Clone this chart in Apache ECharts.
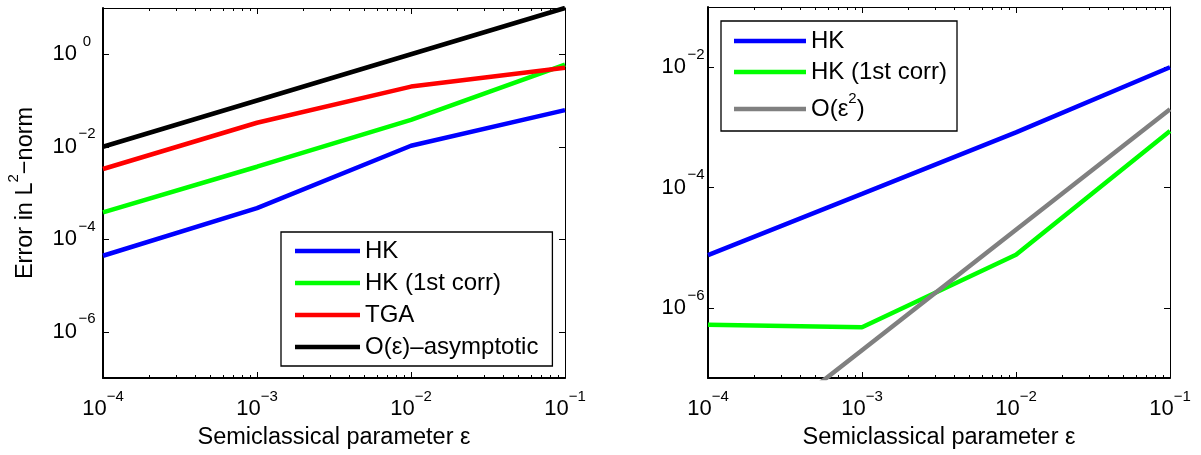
<!DOCTYPE html>
<html><head><meta charset="utf-8">
<script src="https://cdn.jsdelivr.net/npm/echarts@6/dist/echarts.min.js"></script>
<style>html,body{margin:0;padding:0;background:#fff}#c{width:1201px;height:455px}</style>
</head><body><div id="c"></div>
<script>
// ---- data (raw values, plotted on log10 scales) ----
const epsValues = [1e-4, 1e-3, 1e-2, 1e-1];
const xMajorTickValues = [1e-4, 1e-3, 1e-2, 1e-1];
const xMinorTickValues = [2e-4,3e-4,4e-4,5e-4,6e-4,7e-4,8e-4,9e-4,
                          2e-3,3e-3,4e-3,5e-3,6e-3,7e-3,8e-3,9e-3,
                          2e-2,3e-2,4e-2,5e-2,6e-2,7e-2,8e-2,9e-2];
const leftYTickValues = [1e-6, 1e-4, 1e-2, 1e0];
const rightYTickValues = [1e-6, 1e-4, 1e-2];
const leftYRange = [1e-7, 1e1];
const rightYRange = [6.9e-8, 1e-1];

const leftNames = ['HK', 'HK (1st corr)', 'TGA', 'O(ε)–asymptotic'];
const leftHK    = [4.4e-5, 4.7e-4, 1.05e-2, 6.2e-2];
const leftHK1   = [3.8e-4, 3.7e-3, 3.8e-2, 0.6];
const leftTGA   = [3.3e-3, 3.3e-2, 0.2, 0.51];
const leftAsym  = [1e-2, 1e-1, 1, 10];

const rightNames = ['HK', 'HK (1st corr)', 'O(ε2)'];
const rightHK   = [7.6e-6, 7.9e-5, 8.3e-4, 1e-2];
const rightHK1  = [5.3e-7, 4.8e-7, 7.7e-6, 8.7e-4];
const rightO2   = [2e-9, 2e-7, 2e-5, 2e-3];

const leftColors = ['#0000ff', '#00ff00', '#ff0000', '#000000'];
const rightColors = ['#0000ff', '#00ff00', '#808080'];

// ---- helpers ----
const FF = 'Liberation Sans, Arial, Helvetica, sans-serif';
const lg = v => Math.log10(v);
function expLabel(v) {
  const n = Math.round(v);
  const s = n < 0 ? '\u2212' + (-n) : String(n);
  return '{b|10}{s|' + s + '}';
}
const richX = {
  b: {fontSize: 22, fontFamily: FF, color: '#000', lineHeight: 40},
  s: {fontSize: 15, fontFamily: FF, color: '#000', lineHeight: 16, verticalAlign: 'top'}
};
const richY = {
  b: {fontSize: 22, fontFamily: FF, color: '#000', lineHeight: 40},
  s: {fontSize: 15, fontFamily: FF, color: '#000', lineHeight: 16, verticalAlign: 'top', width: 20, align: 'left'}
};
const richName = {
  b: {fontSize: 23.5, fontFamily: FF, color: '#000', lineHeight: 40},
  s: {fontSize: 15, fontFamily: FF, color: '#000', lineHeight: 16, verticalAlign: 'top'}
};

function xAxes(gridIndex, withLabels) {
  const base = {
    type: 'value', gridIndex, min: lg(epsValues[0]), max: lg(epsValues[epsValues.length - 1]), interval: 1,
    splitLine: {show: false}
  };
  return [
    Object.assign({}, base, {
      position: 'bottom',
      axisLine: {show: true, onZero: false, lineStyle: {color: '#000', width: 2}},
      axisTick: {show: true, inside: true, length: 6, lineStyle: {color: '#000', width: 1}, customValues: xMajorTickValues.map(lg)},
      axisLabel: {show: withLabels, margin: 11, formatter: expLabel, rich: richX},
      name: 'Semiclassical parameter ε', nameLocation: 'middle', nameGap: 48,
      nameTextStyle: {fontSize: 23.5, fontFamily: FF, color: '#000'}
    }),
    Object.assign({}, base, {
      position: 'bottom',
      axisLine: {show: false, onZero: false},
      axisTick: {show: true, inside: true, length: 3, lineStyle: {color: '#000', width: 1}, customValues: xMinorTickValues.map(lg)},
      axisLabel: {show: false}
    }),
    Object.assign({}, base, {
      position: 'top',
      axisLine: {show: true, onZero: false, lineStyle: {color: '#000', width: 1}},
      axisTick: {show: true, inside: true, length: 6, lineStyle: {color: '#000', width: 1}, customValues: xMajorTickValues.map(lg)},
      axisLabel: {show: false}
    }),
    Object.assign({}, base, {
      position: 'top',
      axisLine: {show: false, onZero: false},
      axisTick: {show: true, inside: true, length: 3, lineStyle: {color: '#000', width: 1}, customValues: xMinorTickValues.map(lg)},
      axisLabel: {show: false}
    })
  ];
}
function yAxes(gridIndex, range, ticks, margin, withName) {
  const base = {type: 'value', gridIndex, min: lg(range[0]), max: lg(range[1]), splitLine: {show: false}};
  const left = Object.assign({}, base, {
    position: 'left',
    axisLine: {show: true, onZero: false, lineStyle: {color: '#000', width: 2}},
    axisTick: {show: true, inside: true, length: 6, lineStyle: {color: '#000', width: 1}, customValues: ticks.map(lg)},
    axisLabel: {show: true, margin, formatter: expLabel, rich: richY, customValues: ticks.map(lg)}
  });
  if (withName) {
    Object.assign(left, {
      name: '{b|Error in L}{s|2}{b|\u2212norm}', nameLocation: 'middle', nameGap: 57, nameRotate: 90,
      nameTextStyle: {rich: richName, fontSize: 23.5, fontFamily: FF, color: '#000'}
    });
  }
  const right = Object.assign({}, base, {
    position: 'right',
    axisLine: {show: true, onZero: false, lineStyle: {color: '#000', width: 1}},
    axisTick: {show: true, inside: true, length: 6, lineStyle: {color: '#000', width: 1}, customValues: ticks.map(lg)},
    axisLabel: {show: false}
  });
  return [left, right];
}
function lineSeries(name, values, color, xi, yi, width) {
  return {
    type: 'line', name, xAxisIndex: xi, yAxisIndex: yi,
    data: epsValues.map((e, i) => [lg(e), lg(values[i])]),
    showSymbol: false, symbol: 'none', clip: true,
    lineStyle: {color, width: width || 4.5},
    itemStyle: {color},
    color,
    animation: false, silent: true, z: 3
  };
}

const option = {
  backgroundColor: '#fff',
  animation: false,
  grid: [
    {left: 103, top: 8, width: 462, height: 370, containLabel: false},
    {left: 708, top: 7, width: 462, height: 372, containLabel: false}
  ],
  xAxis: [...xAxes(0, true), ...xAxes(1, true)],
  yAxis: [...yAxes(0, leftYRange, leftYTickValues, 6, true), ...yAxes(1, rightYRange, rightYTickValues, 2, false)],
  legend: [
    {
      data: leftNames, orient: 'vertical', left: 281, top: 232,
      icon: 'rect', itemWidth: 65, itemHeight: 4.5, itemGap: 8,
      padding: [7, 14, 7, 14],
      backgroundColor: '#fff', borderColor: '#000', borderWidth: 1.3, borderRadius: 0,
      textStyle: {fontSize: 24, fontFamily: FF, color: '#000', lineHeight: 24},
      selectedMode: false
    },
    {
      data: rightNames, orient: 'vertical', left: 721, top: 21,
      icon: 'rect', itemWidth: 72, itemHeight: 4.5, itemGap: 7,
      padding: [8, 10, 4, 13],
      backgroundColor: '#fff', borderColor: '#000', borderWidth: 1.3, borderRadius: 0,
      formatter: name => name === 'O(ε2)' ? '{o|O(ε}{s|2}{o|)}' : name,
      textStyle: {fontSize: 24, fontFamily: FF, color: '#000', lineHeight: 24,
        rich: {
          o: {fontSize: 24, fontFamily: FF, color: '#000', lineHeight: 36},
          s: {fontSize: 15, fontFamily: FF, color: '#000', lineHeight: 10, verticalAlign: 'top'}
        }},
      selectedMode: false
    }
  ],
  series: [
    lineSeries(leftNames[0], leftHK, leftColors[0], 0, 0),
    lineSeries(leftNames[1], leftHK1, leftColors[1], 0, 0),
    lineSeries(leftNames[2], leftTGA, leftColors[2], 0, 0),
    lineSeries(leftNames[3], leftAsym, leftColors[3], 0, 0),
    lineSeries(rightNames[0], rightHK, rightColors[0], 4, 2),
    lineSeries(rightNames[1], rightHK1, rightColors[1], 4, 2),
    lineSeries(rightNames[2], rightO2, rightColors[2], 4, 2)
  ]
};
const chart = echarts.init(document.getElementById('c'), null, {renderer: 'canvas'});
chart.setOption(option);
</script>
</body></html>
